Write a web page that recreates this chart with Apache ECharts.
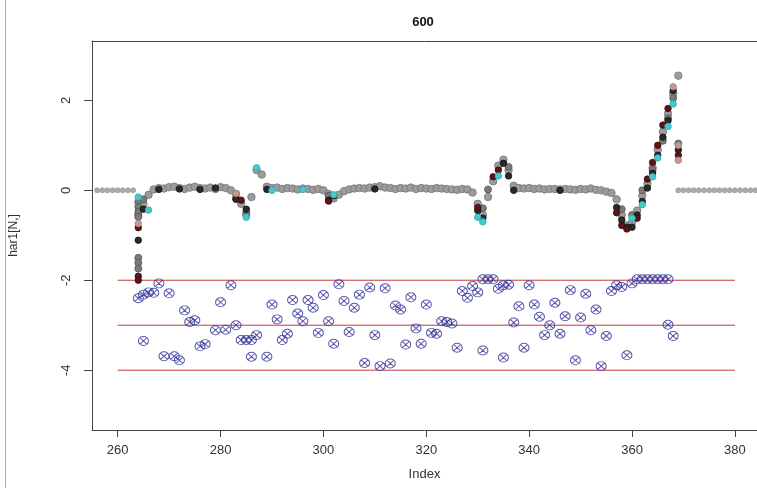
<!DOCTYPE html>
<html>
<head>
<meta charset="utf-8">
<script src="https://cdn.jsdelivr.net/npm/echarts@6/dist/echarts.min.js"></script>
<style>html,body{margin:0;padding:0;background:#fff}#c{width:757px;height:488px}</style>
</head>
<body>
<div id="c"></div>
<script>
// ---- data ----
const xTicks = [260, 280, 300, 320, 340, 360, 380];
const yTicks = [-4, -2, 0, 2];
const refLevels = [-2, -3, -4];
const refRange = [260, 380];

// main grey curve, x = 264 .. 369
const mainStart = 264;
const mainVals = [
  -0.55,-0.30,-0.10,0.02,0.05,0.04,0.07,0.08,0.05,0.03,
  0.06,0.08,0.05,0.04,0.06,0.03,0.07,0.05,0.00,-0.08,
  -0.30,-0.50,-0.15,0.45,0.35,0.08,0.05,0.06,0.03,0.05,
  0.04,0.02,0.04,0.03,0.01,0.03,0.00,-0.08,-0.18,-0.10,
  -0.02,0.02,0.04,0.05,0.04,0.06,0.07,0.09,0.06,0.05,
  0.03,0.05,0.04,0.06,0.03,0.05,0.04,0.03,0.05,0.04,
  0.03,0.02,0.01,0.03,0.02,-0.05,-0.30,-0.55,-0.15,0.20,
  0.55,0.68,0.45,0.10,0.05,0.04,0.05,0.03,0.04,0.02,
  0.03,0.03,0.02,0.03,0.02,0.01,0.03,0.02,0.04,0.01,
  0.00,-0.03,-0.06,-0.20,-0.55,-0.78,-0.72,-0.45,-0.12,0.15,
  0.50,0.90,1.30,1.70,2.15,2.55
];

const darkPts = [[264,-1.11],[265,-0.42],[268,0.02],[272,0.03],[276,0.02],[279,0.05],[283,-0.2],[285,-0.42],[289,0.02],[301,-0.22],[302,-0.12],[310,0.03],[330,-0.45],[331,-0.62],[335,0.6],[336,0.32],[337,0.0],[346,0.0],[357,-0.38],[358,-0.66],[359,-0.82],[360,-0.82],[361,-0.55],[362,-0.25],[363,0.05],[364,0.38],[365,0.78],[366,1.18],[367,1.55],[368,2.22],[369,0.9]];
const redPts = [[264,-1.91],[264,-2.0],[264,-0.83],[284,-0.22],[301,-0.24],[330,-0.38],[333,0.3],[334,0.45],[357,-0.5],[358,-0.78],[359,-0.86],[361,-0.62],[363,0.25],[364,0.62],[365,1.0],[366,1.45],[367,1.82],[369,0.78]];
const cyanPts = [[264,-0.15],[266,-0.44],[285,-0.6],[287,0.5],[290,0.0],[296,0.02],[302,-0.1],[330,-0.6],[331,-0.7],[334,0.32],[360,-0.62],[362,-0.32],[364,0.3],[365,0.72],[367,1.42],[368,1.92]];
const midPts = [[264,-0.26],[264,-0.37],[264,-0.48],[264,-0.59],[264,-1.5],[264,-1.61],[264,-1.74],[265,-0.2],[283,-0.18],[285,-0.56],[301,-0.12],[331,-0.4],[332,0.02],[336,0.52],[358,-0.42],[360,-0.55],[362,0.0],[364,0.45],[366,1.1],[367,1.6],[368,2.05],[369,1.04]];
const tanPts = [[264,-0.74],[369,1.0],[369,0.67],[283,-0.07],[368,2.3]];

const flatPts = [[256,0],[257,0],[258,0],[259,0],[260,0],[261,0],[262,0],[263,0],
  [369,0],[370,0],[371,0],[372,0],[373,0],[374,0],[375,0],[376,0],[377,0],[378,0],[379,0],[380,0],[381,0],[382,0],[383,0],[384,0]];

const bluePts = [
  [264,-2.40],[265,-2.32],[265,-3.35],[266,-2.27],[267,-2.28],[268,-2.07],[269,-3.69],[270,-2.29],[271,-3.69],[272,-3.78],
  [273,-2.67],[274,-2.93],[275,-2.89],[276,-3.47],[277,-3.42],[279,-3.11],[280,-2.49],[281,-3.10],[282,-2.11],[283,-3.00],
  [284,-3.33],[285,-3.33],[286,-3.33],[286,-3.70],[287,-3.22],[289,-3.70],[290,-2.54],[291,-2.87],[292,-3.33],[293,-3.19],
  [294,-2.44],[295,-2.74],[296,-2.91],[297,-2.44],[298,-2.61],[299,-3.17],[300,-2.33],[301,-2.91],[302,-3.41],[303,-2.09],
  [304,-2.46],[305,-3.15],[306,-2.61],[307,-2.32],[308,-3.84],[309,-2.16],[310,-3.22],[311,-3.91],[312,-2.18],[313,-3.85],
  [314,-2.56],[315,-2.65],[316,-3.43],[317,-2.38],[318,-3.07],[319,-3.41],[320,-2.54],[321,-3.17],[322,-3.19],[323,-2.91],
  [324,-2.93],[325,-2.96],[326,-3.50],[327,-2.24],[328,-2.39],[329,-2.13],[330,-2.27],[331,-3.56],[331,-1.98],[332,-1.98],
  [333,-1.98],[334,-2.19],[335,-3.72],[335,-2.11],[336,-2.10],[337,-2.94],[338,-2.58],[339,-3.50],[340,-2.11],[341,-2.54],
  [342,-2.81],[343,-3.22],[344,-3.00],[345,-2.50],[346,-3.19],[347,-2.80],[348,-2.22],[349,-3.78],[350,-2.83],[351,-2.30],
  [352,-3.11],[353,-2.65],[354,-3.91],[355,-3.24],[356,-2.24],[357,-2.11],[358,-2.15],[359,-3.67],[360,-2.07],[361,-1.98],
  [362,-1.98],[363,-1.98],[364,-1.98],[365,-1.98],[366,-1.98],[367,-1.98],[367,-2.99],[368,-3.24]
];

// ---- chart ----
const font = 'Liberation Sans, Arial, sans-serif';
const mainPts = mainVals.map((v, i) => [mainStart + i, v]);
const otimes = 'path://M10,0A10,10,0,1,1,10,20A10,10,0,1,1,10,0Z M2.93,2.93L17.07,17.07 M17.07,2.93L2.93,17.07';

function dots(data, color, border, size) {
  return {type: 'scatter', data: data, symbol: 'circle', symbolSize: size || 7,
    itemStyle: {color: color, borderColor: border, borderWidth: 0.8, opacity: 1}, z: 3};
}

const series = [];
refLevels.forEach(l => series.push({
  type: 'line', data: [[refRange[0], l], [refRange[1], l]], symbol: 'none',
  lineStyle: {color: '#c43a3a', width: 1}, z: 1, silent: true
}));
series.push({type: 'scatter', data: bluePts, symbol: otimes, symbolSize: [10, 9],
  itemStyle: {color: 'rgba(0,0,0,0)', borderColor: '#2f2f96', borderWidth: 1}, z: 2});
series.push(dots(flatPts, '#acacac', '#9a9a9a', 5));
series.push(dots(mainPts, '#9c9c9c', '#757575', 7.5));
series.push(dots(midPts, '#7a7a7a', '#555', 7));
series.push(dots(darkPts, '#2a2a2a', '#111', 6.5));
series.push(dots(redPts, '#5a1616', '#3a0a0a', 6.5));
series.push(dots(cyanPts, '#48c8d0', '#30a8b0', 6.5));
series.push(dots(tanPts, '#c49a92', '#a07a72', 6.5));

const axisCol = '#444';
const option = {
  animation: false,
  backgroundColor: '#ffffff',
  graphic: [
    {type: 'text', x: 423, y: 22, style: {text: '600', align: 'center', verticalAlign: 'middle',
      font: 'bold 13px ' + font, fill: '#111'}},
    {type: 'line', shape: {x1: 5.5, y1: 0, x2: 5.5, y2: 488}, style: {stroke: '#9eb0c6', lineWidth: 1}}
  ],
  grid: {left: 90, right: 0, top: 41, bottom: 58, containLabel: false},
  xAxis: [{
    type: 'value', min: 255, max: 384.3,
    axisLine: {show: true, onZero: false, lineStyle: {color: axisCol, width: 1}},
    axisTick: {show: true, length: 7, customValues: xTicks, lineStyle: {color: axisCol}},
    axisLabel: {customValues: xTicks, margin: 14, fontSize: 13, color: '#333', fontFamily: font},
    splitLine: {show: false},
    name: 'Index', nameLocation: 'middle', nameGap: 38,
    nameTextStyle: {fontSize: 13, color: '#333', fontFamily: font}
  }, {
    type: 'value', position: 'top', min: 255, max: 384.3,
    axisLine: {show: true, onZero: false, lineStyle: {color: axisCol, width: 1}},
    axisTick: {show: false}, axisLabel: {show: false}, splitLine: {show: false}
  }],
  yAxis: {
    type: 'value', min: -5.33, max: 3.32,
    axisLine: {show: true, onZero: false, lineStyle: {color: axisCol, width: 1}},
    axisTick: {show: true, length: 8, customValues: yTicks, lineStyle: {color: axisCol}},
    axisLabel: {customValues: yTicks, rotate: 90, margin: 19, fontSize: 13, color: '#333', fontFamily: font},
    splitLine: {show: false},
    name: 'har1[N,]', nameLocation: 'middle', nameGap: 72, nameRotate: 90,
    nameTextStyle: {fontSize: 12, color: '#333', fontFamily: font}
  },
  series: series
};
const chart = echarts.init(document.getElementById('c'), null, {renderer: 'canvas'});
chart.setOption(option);
</script>
</body>
</html>
